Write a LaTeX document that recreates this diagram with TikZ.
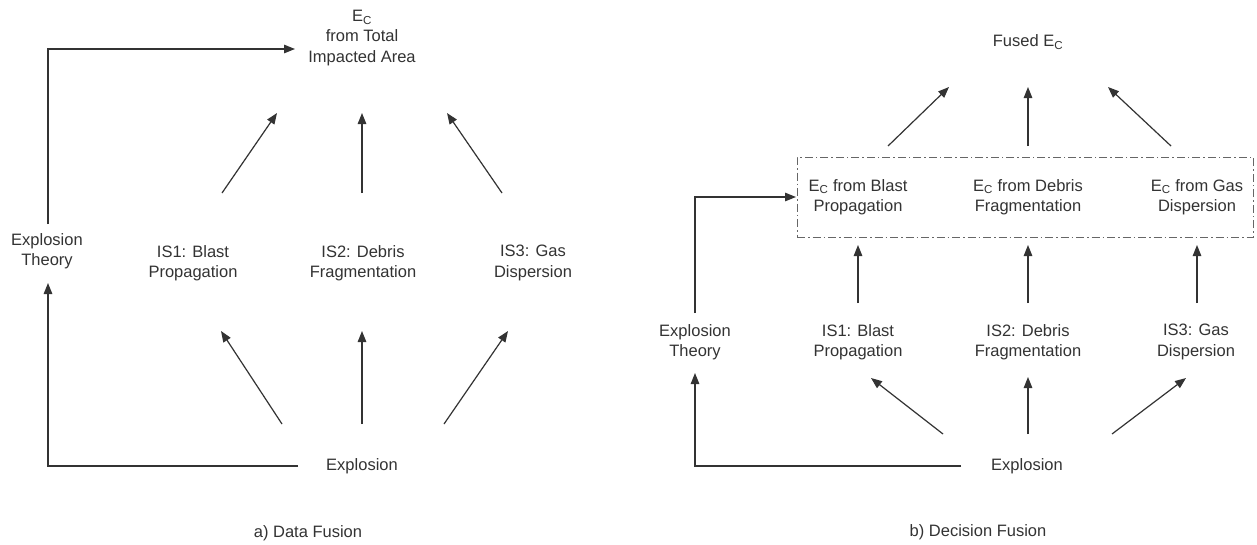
\documentclass[tikz,border=0pt]{standalone}
\usepackage{fontspec}
\setmainfont{Liberation Sans}
\usetikzlibrary{arrows.meta}
\newcommand{\EC}{E\textsubscript{C}}
\begin{document}
\begin{tikzpicture}[x=1pt,y=-1pt,
  lbl/.style={align=center,font=\fontsize{16.5}{20.5}\selectfont,text=black!80,inner sep=0pt},
  arr/.style={draw=black!80,line width=1.2pt,-{Triangle[length=11pt,width=8.5pt]}},
  ln/.style={draw=black!75,line width=1.3pt},
  ddbox/.style={draw=black!60,line width=1pt,dash pattern=on 8pt off 3pt on 1.5pt off 3pt,
    minimum width=456pt,minimum height=80pt,inner sep=0pt}]
\useasboundingbox[fill=white] (0,0) rectangle (1257,544);

% ---------- a) Data Fusion ----------
\node[lbl] (ECT) at (362,38) {\EC\\from Total\\Impacted Area};
\node[lbl] (ETL) at (47,251) {Explosion\\Theory};
\node[lbl] (IS1L) at (193,263) {IS1: Blast\\Propagation};
\node[lbl] (IS2L) at (363,263) {IS2: Debris\\Fragmentation};
\node[lbl] (IS3L) at (533,263) {IS3: Gas\\Dispersion};
\node[lbl] (EXL) at (362,466) {Explosion};
\node[lbl] (capA) at (308,533) {a) Data Fusion};

\coordinate (lt0) at (48,224);
\coordinate (lt1) at (295,49);
\coordinate (lb0) at (298,466);
\coordinate (lb1) at (48,283);
\coordinate (lu1s) at (222,193); \coordinate (lu1e) at (277,113);
\coordinate (lu2s) at (362,193); \coordinate (lu2e) at (362,113);
\coordinate (lu3s) at (502,193); \coordinate (lu3e) at (447,113);
\coordinate (ld1s) at (282,424); \coordinate (ld1e) at (221,331);
\coordinate (ld2s) at (362,424); \coordinate (ld2e) at (362,331);
\coordinate (ld3s) at (444,424); \coordinate (ld3e) at (508,331);

\draw[arr] (lt0) |- (lt1);
\draw[arr] (lb0) -| (lb1);
\draw[arr] (lu1s) -- (lu1e);
\draw[arr] (lu2s) -- (lu2e);
\draw[arr] (lu3s) -- (lu3e);
\draw[arr] (ld1s) -- (ld1e);
\draw[arr] (ld2s) -- (ld2e);
\draw[arr] (ld3s) -- (ld3e);

% ---------- b) Decision Fusion ----------
\node[lbl] (FEC) at (1028,42) {Fused \EC};
\node[ddbox] (box) at (1025,197) {};
\node[lbl] (B1) at (858,197) {\EC{} from Blast\\Propagation};
\node[lbl] (B2) at (1028,197) {\EC{} from Debris\\Fragmentation};
\node[lbl] (B3) at (1197,197) {\EC{} from Gas\\Dispersion};
\node[lbl] (ETR) at (695,342) {Explosion\\Theory};
\node[lbl] (IS1R) at (858,342) {IS1: Blast\\Propagation};
\node[lbl] (IS2R) at (1028,342) {IS2: Debris\\Fragmentation};
\node[lbl] (IS3R) at (1196,342) {IS3: Gas\\Dispersion};
\node[lbl] (EXR) at (1027,466) {Explosion};
\node[lbl] (capB) at (978,532) {b) Decision Fusion};

\coordinate (rt0) at (695,313);
\coordinate (rt1) at (796,197);
\coordinate (rb0) at (961,466);
\coordinate (rb1) at (695,373);
\coordinate (ru1s) at (888,146); \coordinate (ru1e) at (949,87);
\coordinate (ru2s) at (1028,146); \coordinate (ru2e) at (1028,87);
\coordinate (ru3s) at (1171,146); \coordinate (ru3e) at (1108,87);
\coordinate (rm1s) at (858,303); \coordinate (rm1e) at (858,245);
\coordinate (rm2s) at (1028,303); \coordinate (rm2e) at (1028,245);
\coordinate (rm3s) at (1197,303); \coordinate (rm3e) at (1197,245);
\coordinate (rd1s) at (943,434); \coordinate (rd1e) at (871,378);
\coordinate (rd2s) at (1028,434); \coordinate (rd2e) at (1028,377);
\coordinate (rd3s) at (1112,434); \coordinate (rd3e) at (1186,378);

\draw[arr] (rt0) |- (rt1);
\draw[arr] (rb0) -| (rb1);
\draw[arr] (ru1s) -- (ru1e);
\draw[arr] (ru2s) -- (ru2e);
\draw[arr] (ru3s) -- (ru3e);
\draw[arr] (rm1s) -- (rm1e);
\draw[arr] (rm2s) -- (rm2e);
\draw[arr] (rm3s) -- (rm3e);
\draw[arr] (rd1s) -- (rd1e);
\draw[arr] (rd2s) -- (rd2e);
\draw[arr] (rd3s) -- (rd3e);
\end{tikzpicture}
\end{document}
